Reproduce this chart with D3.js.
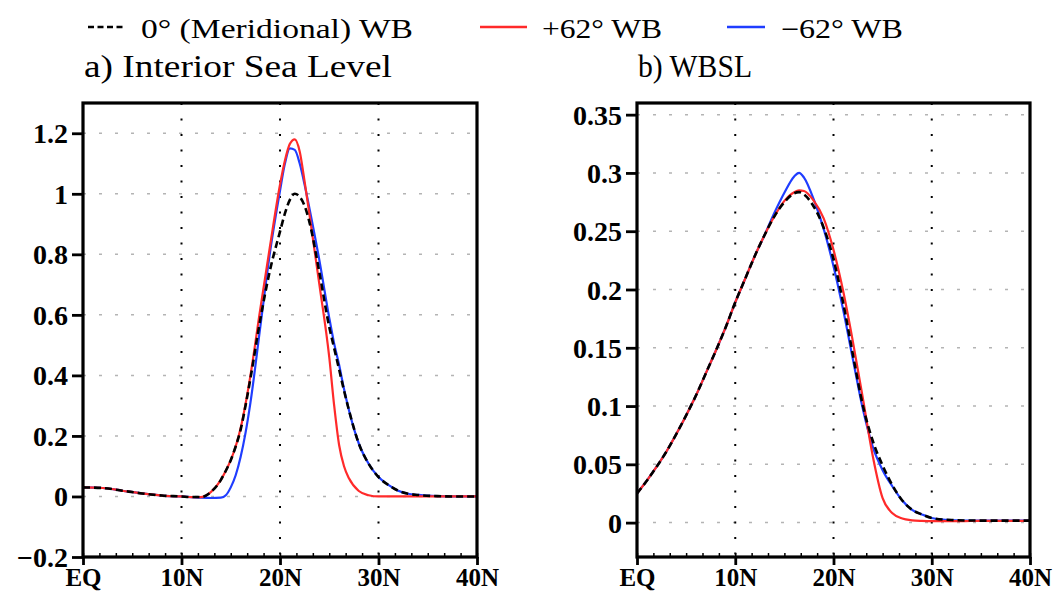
<!DOCTYPE html>
<html lang="en">
<head>
  <meta charset="UTF-8">
  <title>Interior Sea Level and WBSL</title>
  <style>
    body { margin: 0; background: #fff; overflow: hidden; }
    svg { display: block; }
    .tick text { font-family: 'Liberation Serif', 'Times New Roman', serif; font-weight: bold; fill: #000; }
    .lbl { font-family: 'Liberation Serif', 'Times New Roman', serif; fill: #000; }
  </style>
</head>
<body>
  <div id="chart"></div>
  <script src="https://d3js.org/d3.v7.min.js"></script>
  <script>
    // Series labels
    const seriesNames = ['0° (Meridional) WB', '+62° WB', '−62° WB'];
    const panelTitles = ['a) Interior Sea Level', 'b) WBSL'];

    // Tick values
    const xTicks = [0, 10, 20, 30, 40];
    const yTicksA = [-0.2, 0, 0.2, 0.4, 0.6, 0.8, 1, 1.2];
    const yTicksB = [0, 0.05, 0.1, 0.15, 0.2, 0.25, 0.3, 0.35];

    // Panel a: interior sea level (latitude in degrees N)
    const latA = [0, 2, 4, 6, 8, 10, 11, 12, 13, 14, 14.5, 15, 15.5, 16, 16.5, 17, 18, 19, 20, 20.5, 21, 21.5, 22, 22.5,
                  23, 24, 25, 25.5, 26, 26.5, 27, 28, 29, 30, 31, 32, 33, 34, 36, 38, 40];
    const merA = [0.030, 0.028, 0.019, 0.010, 0.003, 0.000, -0.002, -0.002, 0.015, 0.055, 0.085, 0.12, 0.165, 0.22, 0.30, 0.39, 0.585, 0.75, 0.875, 0.935, 0.98, 1.0, 0.99, 0.96,
                  0.905, 0.74, 0.56, 0.49, 0.42, 0.35, 0.285, 0.175, 0.108, 0.064, 0.038, 0.019, 0.009, 0.005, 0.001, 0, 0];
    const posA = [0.030, 0.028, 0.019, 0.010, 0.003, 0.000, -0.002, -0.002, 0.015, 0.055, 0.085, 0.12, 0.165, 0.225, 0.305, 0.40, 0.62, 0.83, 1.03, 1.11, 1.165, 1.18, 1.14, 1.04,
                  0.93, 0.70, 0.46, 0.30, 0.17, 0.10, 0.06, 0.018, 0.004, 0, 0, 0, 0, 0, 0, 0, 0];
    const negA = [0.030, 0.028, 0.019, 0.010, 0.003, 0.000, -0.002, -0.004, -0.005, -0.004, 0.004, 0.03, 0.07, 0.13, 0.21, 0.31, 0.56, 0.81, 1.01, 1.10, 1.15, 1.145, 1.10, 1.03,
                  0.95, 0.78, 0.59, 0.505, 0.435, 0.355, 0.285, 0.175, 0.108, 0.064, 0.038, 0.019, 0.009, 0.005, 0.001, 0, 0];

    // Panel b: western boundary sea level
    const latB = [0, 1, 2, 3, 4, 5, 6, 7, 8, 9, 10, 11, 12, 13, 14, 15, 16, 16.5, 17, 18, 19, 20,
                  21, 22, 23, 24, 25, 26, 27, 28, 29, 30, 32, 34, 36, 38, 40];
    const merB = [0.025, 0.036, 0.048, 0.061, 0.076, 0.092, 0.109, 0.128, 0.147, 0.167, 0.189, 0.209, 0.229, 0.247, 0.263, 0.275, 0.2825, 0.2835, 0.2815, 0.271, 0.253, 0.226,
                  0.188, 0.143, 0.100, 0.070, 0.049, 0.032, 0.019, 0.011, 0.007, 0.004, 0.0022, 0.0018, 0.0017, 0.0017, 0.0017];
    const posB = [0.025, 0.036, 0.048, 0.061, 0.076, 0.092, 0.109, 0.128, 0.147, 0.167, 0.189, 0.209, 0.229, 0.247, 0.263, 0.276, 0.2835, 0.285, 0.2845, 0.276, 0.261, 0.234,
                  0.198, 0.154, 0.106, 0.057, 0.021, 0.008, 0.0035, 0.002, 0.0015, 0.0013, 0.0013, 0.0014, 0.0015, 0.0015, 0.0015];
    const negB = [0.025, 0.036, 0.048, 0.061, 0.076, 0.092, 0.109, 0.128, 0.147, 0.167, 0.189, 0.209, 0.229, 0.247, 0.266, 0.283, 0.297, 0.300, 0.296, 0.277, 0.252, 0.220,
                  0.182, 0.139, 0.097, 0.065, 0.045, 0.031, 0.019, 0.011, 0.007, 0.004, 0.0022, 0.0018, 0.0017, 0.0017, 0.0017];

    const W = 1055, H = 593;
    const colors = ['#000', '#ff2a2a', '#1f3dff'];

    const svg = d3.select('#chart').append('svg')
      .attr('width', W).attr('height', H);

    // legend
    const leg = svg.append('g');
    const legItems = [
      { x0: 88, x1: 125, tx: 141, tw: 272, dash: '6,3.5' },
      { x0: 480, x1: 527, tx: 542, tw: 120, dash: null },
      { x0: 727, x1: 765, tx: 781, tw: 122, dash: null }
    ];
    legItems.forEach((it, i) => {
      leg.append('line')
        .attr('x1', it.x0).attr('x2', it.x1).attr('y1', 27).attr('y2', 27)
        .attr('stroke', colors[i]).attr('stroke-width', 2.5)
        .attr('stroke-dasharray', it.dash);
      leg.append('text').attr('class', 'lbl')
        .attr('x', it.tx).attr('y', 38)
        .attr('font-size', 27)
        .attr('textLength', it.tw).attr('lengthAdjust', 'spacingAndGlyphs')
        .text(seriesNames[i]);
    });

    function drawPanel(p) {
      const x = d3.scaleLinear().domain([0, 40]).range([p.left, p.right]);
      const y = d3.scaleLinear().domain(p.yDomain).range([557, 103]);
      const g = svg.append('g');

      // title
      g.append('text').attr('class', 'lbl')
        .attr('x', p.left + 1).attr('y', 77)
        .attr('font-size', 32)
        .attr('textLength', p.titleW).attr('lengthAdjust', 'spacingAndGlyphs')
        .text(p.title);

      // horizontal grid (light grey dashes)
      g.append('g').selectAll('line')
        .data(p.yTicks.filter(v => y(v) < 555))
        .join('line')
        .attr('x1', p.left).attr('x2', p.right)
        .attr('y1', d => y(d)).attr('y2', d => y(d))
        .attr('stroke', '#b4b4b4').attr('stroke-width', 1.5)
        .attr('stroke-dasharray', '3,13');

      // vertical grid (black dots)
      g.append('g').selectAll('line')
        .data(xTicks.slice(1, -1))
        .join('line')
        .attr('x1', d => x(d)).attr('x2', d => x(d))
        .attr('y1', 103).attr('y2', 557)
        .attr('stroke', '#000').attr('stroke-width', 2)
        .attr('stroke-dasharray', '2,13.5');

      // curves: blue, red, then black dashed on top
      const series = [p.neg, p.pos, p.mer];
      const cols = [colors[2], colors[1], colors[0]];
      series.forEach((vals, k) => {
        const line = d3.line()
          .x((d, i) => x(p.lat[i]))
          .y(d => y(d))
          .curve(d3.curveMonotoneX);
        g.append('path')
          .datum(vals)
          .attr('fill', 'none')
          .attr('stroke', cols[k])
          .attr('stroke-width', k === 2 ? 2.6 : 2.2)
          .attr('stroke-dasharray', k === 2 ? '7,4' : null)
          .attr('d', line);
      });

      // minor ticks along bottom (inward)
      g.append('g').attr('transform', 'translate(0,557)')
        .call(d3.axisBottom(x).tickValues(d3.range(0, 40.01, 10 / 6)).tickSize(-4).tickFormat(''))
        .call(a => a.select('.domain').remove())
        .call(a => a.selectAll('line').attr('stroke', '#000').attr('stroke-width', 1.5));

      // frame
      g.append('rect')
        .attr('x', p.left).attr('y', 103)
        .attr('width', p.right - p.left).attr('height', 557 - 103)
        .attr('fill', 'none').attr('stroke', '#000').attr('stroke-width', 3.2);

      // axes
      g.append('g').attr('transform', `translate(${p.left},0)`)
        .call(d3.axisLeft(y).tickValues(p.yTicks).tickSize(11).tickPadding(4).tickFormat(d3.format('~g')))
        .call(a => a.select('.domain').remove())
        .call(a => a.selectAll('line').attr('stroke', '#000').attr('stroke-width', 2.8))
        .call(a => a.selectAll('text').attr('font-size', 28).attr('dy', '0.34em'));

      g.append('g').attr('transform', 'translate(0,557)')
        .call(d3.axisBottom(x).tickValues(xTicks).tickSize(8).tickPadding(2)
          .tickFormat(d => d === 0 ? 'EQ' : d + 'N'))
        .call(a => a.select('.domain').remove())
        .call(a => a.selectAll('line').attr('stroke', '#000').attr('stroke-width', 2.8))
        .call(a => a.selectAll('text').attr('font-size', 25).attr('dy', '0.74em'));
    }

    drawPanel({ left: 83, right: 477, yDomain: [-0.2, 1.3], yTicks: yTicksA,
                lat: latA, mer: merA, pos: posA, neg: negA,
                title: panelTitles[0], titleW: 308 });
    drawPanel({ left: 637, right: 1030, yDomain: [-0.0295, 0.36], yTicks: yTicksB,
                lat: latB, mer: merB, pos: posB, neg: negB,
                title: panelTitles[1], titleW: 114 });
  </script>
</body>
</html>
